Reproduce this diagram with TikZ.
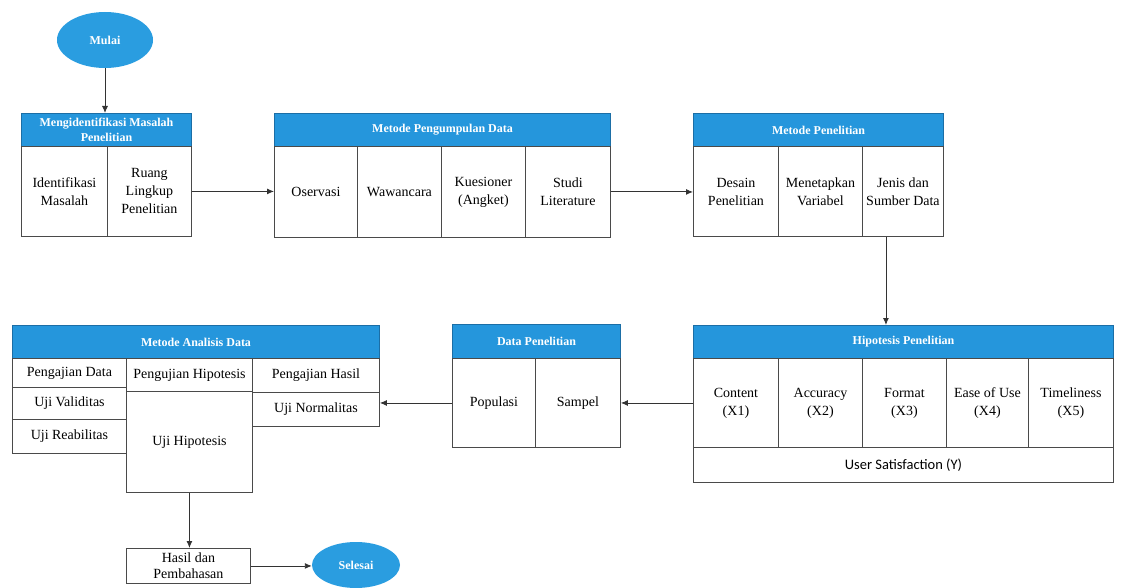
\documentclass[tikz,border=0pt]{standalone}
\usepackage{fontspec}
\setmainfont{Liberation Serif}
\newfontfamily\uisans{Carlito}
\usetikzlibrary{shapes.geometric,arrows.meta}

\definecolor{hdrblue}{HTML}{2596DC}
\definecolor{hdrline}{HTML}{1B6EA6}
\definecolor{termblue}{HTML}{2A9DE0}
\definecolor{boxline}{HTML}{4A4A4A}
\definecolor{arrline}{HTML}{333333}

\tikzset{
  hdr/.style={draw=hdrline, line width=1pt, fill=hdrblue, text=white,
    anchor=north west, inner sep=0pt, align=center,
    font=\fontsize{12}{15.5}\selectfont\bfseries},
  cell/.style={draw=boxline, line width=0.9pt, fill=white,
    anchor=north west, inner sep=0pt, align=center,
    font=\fontsize{14}{18}\selectfont},
  sz/.style 2 args={minimum width=#1pt, minimum height=#2pt},
  term/.style={ellipse, fill=termblue, text=white, inner sep=0pt,
    font=\fontsize{12}{14}\selectfont\bfseries},
  arr/.style={draw=arrline, line width=0.9pt, -{Latex[length=7pt,width=6pt]}},
}

\begin{document}
\begin{tikzpicture}[x=1pt,y=-1pt]
\useasboundingbox (0,0) rectangle (1121,588);

% ===== Mulai =====
\node[term, minimum width=96pt, minimum height=56pt] (mulai) at (105,40) {Mulai};

% ===== Mengidentifikasi Masalah Penelitian =====
\node[hdr, sz={170}{33}] (mgm) at (21,113) {Mengidentifikasi Masalah\\Penelitian};
\node[cell, sz={86}{90}] (idmas) at (21,146) {Identifikasi\\Masalah};
\node[cell, sz={84}{90}] (ruang) at (107,146) {Ruang\\Lingkup\\Penelitian};

% ===== Metode Pengumpulan Data =====
\node[hdr, sz={336}{33}] (mpd) at (274,113) {Metode Pengumpulan Data};
\node[cell, sz={83}{91}] (obs) at (274,146) {Oservasi};
\node[cell, sz={84}{91}] (waw) at (357,146) {Wawancara};
\node[cell, sz={84}{91}] (kues) at (441,146) {Kuesioner\\(Angket)};
\node[cell, sz={85}{91}] (studi) at (525,146) {Studi\\Literature};

% ===== Metode Penelitian =====
\node[hdr, sz={250}{33}] (mp) at (693,113) {Metode Penelitian};
\node[cell, sz={85}{90}] (desain) at (693,146) {Desain\\Penelitian};
\node[cell, sz={84}{90}] (var) at (778,146) {Menetapkan\\Variabel};
\node[cell, sz={81}{90}] (jenis) at (862,146) {Jenis dan\\Sumber Data};

% ===== Hipotesis Penelitian =====
\node[hdr, sz={420}{33}] (hip) at (693,325) {Hipotesis Penelitian};
\node[cell, sz={85}{89}] (x1) at (693,358) {Content\\(X1)};
\node[cell, sz={84}{89}] (x2) at (778,358) {Accuracy\\(X2)};
\node[cell, sz={84}{89}] (x3) at (862,358) {Format\\(X3)};
\node[cell, sz={82}{89}] (x4) at (946,358) {Ease of Use\\(X4)};
\node[cell, sz={85}{89}] (x5) at (1028,358) {Timeliness\\(X5)};
\node[cell, sz={420}{35}, font=\uisans\fontsize{14.5}{17}\selectfont] (ysat) at (693,447) {User Satisfaction (Y)};

% ===== Data Penelitian =====
\node[hdr, sz={168}{34}] (dp) at (452,324) {Data Penelitian};
\node[cell, sz={83}{89}] (pop) at (452,358) {Populasi};
\node[cell, sz={85}{89}] (sampel) at (535,358) {Sampel};

% ===== Metode Analisis Data =====
\node[hdr, sz={367}{33}] (mad) at (12,325) {Metode Analisis Data};
\node[cell, sz={114}{29}] (pdata) at (12,358) {Pengajian Data};
\node[cell, sz={114}{32}] (valid) at (12,387) {Uji Validitas};
\node[cell, sz={114}{34}] (reab) at (12,419) {Uji Reabilitas};
\node[cell, sz={126}{33}] (phip) at (126,358) {Pengujian Hipotesis};
\node[cell, sz={126}{101}] (ujihip) at (126,391) {Uji Hipotesis};
\node[cell, sz={127}{34}] (phasil) at (252,358) {Pengajian Hasil};
\node[cell, sz={127}{34}] (normal) at (252,392) {Uji Normalitas};

% ===== Hasil dan Selesai =====
\node[cell, sz={124}{35}, font=\fontsize{14}{16.5}\selectfont] (hasil) at (126,548) {Hasil dan\\Pembahasan};
\node[term, minimum width=88pt, minimum height=46pt] (selesai) at (356,565) {Selesai};

% ===== Panah =====
\draw[arr] (mulai.south) -- (mulai.south |- mgm.north);
\draw[arr] (ruang.east) -- (ruang.east -| obs.west);
\draw[arr] (studi.east) -- (studi.east -| desain.west);
\draw[arr] ([xshift=-17pt]jenis.south) -- ([xshift=-17pt]jenis.south |- hip.north);
\draw[arr] (x1.west) -- (x1.west -| sampel.east);
\draw[arr] (pop.west) -- (pop.west -| normal.east);
\draw[arr] (ujihip.south) -- (ujihip.south |- hasil.north);
\draw[arr] (hasil.east) -- (hasil.east -| selesai.west);

\end{tikzpicture}
\end{document}
